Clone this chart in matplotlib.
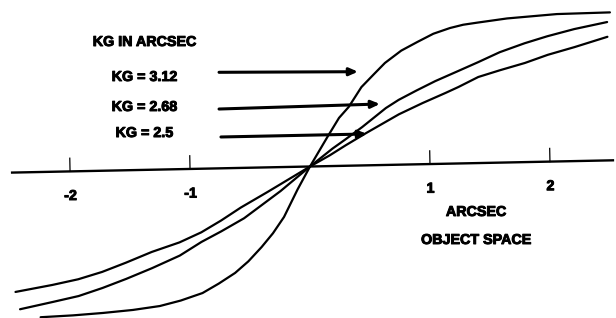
import matplotlib.pyplot as plt
import matplotlib.transforms as mtransforms
import matplotlib.patheffects as pe

# curves (arcsec, object space)
x_312 = [-2.27, -2.0, -1.75, -1.5, -1.275, -1.1, -0.917, -0.78, -0.642, -0.53,
         -0.417, -0.32, -0.225, -0.108, 0.0, 0.15, 0.25, 0.333, 0.442, 0.55,
         0.642, 0.78, 0.917, 1.05, 1.19, 1.3, 1.417, 1.667, 2.083, 2.525]
y_312 = [-1.21, -1.2, -1.185, -1.165, -1.137, -1.095, -1.036, -0.96, -0.874, -0.78,
         -0.663, -0.55, -0.416, -0.19, 0.0, 0.243, 0.40, 0.49, 0.653, 0.76,
         0.85, 0.95, 1.02, 1.085, 1.13, 1.155, 1.17, 1.20, 1.228, 1.233]

x_268 = [-2.44, -2.167, -1.95, -1.75, -1.55, -1.333, -1.1, -0.917, -0.75, -0.558,
         -0.25, 0.0, 0.19, 0.3, 0.442, 0.642, 0.75, 0.9, 1.058, 1.25, 1.417,
         1.6, 1.808, 2.0, 2.225, 2.5]
y_268 = [-1.14, -1.085, -1.04, -0.977, -0.905, -0.82, -0.72, -0.61, -0.525, -0.42,
         -0.2, 0.0, 0.145, 0.22, 0.32, 0.474, 0.54, 0.615, 0.69, 0.77, 0.84,
         0.92, 0.99, 1.045, 1.10, 1.153]

x_250 = [-2.475, -2.167, -1.95, -1.75, -1.55, -1.333, -1.1, -0.917, -0.75, -0.583,
         -0.358, 0.0, 0.167, 0.3, 0.475, 0.75, 0.95, 1.142, 1.25, 1.417, 1.6,
         1.808, 2.0, 2.225, 2.5]
y_250 = [-0.995, -0.943, -0.9, -0.843, -0.77, -0.685, -0.61, -0.53, -0.435, -0.33,
         -0.205, 0.0, 0.09, 0.17, 0.27, 0.42, 0.51, 0.59, 0.637, 0.717, 0.77,
         0.826, 0.89, 0.95, 1.03]

ticks = [-2, -1, 1, 2]
tick_labels = ["-2", "-1", "1", "2"]

kg_labels = ["KG = 3.12", "KG = 2.68", "KG = 2.5"]
kg_text_y = [0.746, 0.496, 0.279]
arrow_start = [(-0.758, 0.785), (-0.758, 0.479), (-0.742, 0.246)]
arrow_end = [(0.40, 0.79), (0.583, 0.521), (0.475, 0.271)]

plt.rcParams['font.family'] = 'Liberation Sans'
plt.rcParams['font.weight'] = 'bold'

fig = plt.figure(figsize=(6.16, 3.18), dpi=100)
ax = fig.add_axes([0, 0, 1, 1])
ax.set_xlim(-310 / 120, 306 / 120)
ax.set_ylim(-151.5 / 120, 166.5 / 120)
ax.axis('off')

# the scan is rotated a little, right side up
tr = mtransforms.Affine2D().rotate_deg(1.17) + ax.transData

for xs, ys in [(x_312, y_312), (x_268, y_268), (x_250, y_250)]:
    ax.plot(xs, ys, color='black', lw=1.6, transform=tr,
            solid_capstyle='round', solid_joinstyle='round')

# thicker letters like the photocopy
fat = [pe.withStroke(linewidth=0.7, foreground='black')]
fs = 10.3

# horizontal axis with ticks
ax.plot([-2.483, 2.525], [0, 0], color='black', lw=1.7, transform=tr)
for t, lab in zip(ticks, tick_labels):
    ax.plot([t, t], [0, 0.11], color='black', lw=0.9, transform=tr)
    ax.text(t, -0.205, lab, ha='center', va='center', fontsize=fs,
            transform=tr, path_effects=fat)

ax.text(1.383, -0.379, "ARCSEC", ha='center', va='center', fontsize=fs, path_effects=fat)
ax.text(1.383, -0.6125, "OBJECT SPACE", ha='center', va='center', fontsize=fs, path_effects=fat)

ax.text(-1.379, 1.0375, "KG IN ARCSEC", ha='center', va='center', fontsize=fs, path_effects=fat)
for lab, ty, s, e in zip(kg_labels, kg_text_y, arrow_start, arrow_end):
    ax.text(-1.379, ty, lab, ha='center', va='center', fontsize=fs, path_effects=fat)
    ax.annotate("", xy=e, xytext=s,
                arrowprops=dict(arrowstyle='-|>,head_length=0.5,head_width=0.22',
                                lw=2.2, color='black', mutation_scale=10,
                                shrinkA=0, shrinkB=0))

fig.savefig("out.png", dpi=100)
